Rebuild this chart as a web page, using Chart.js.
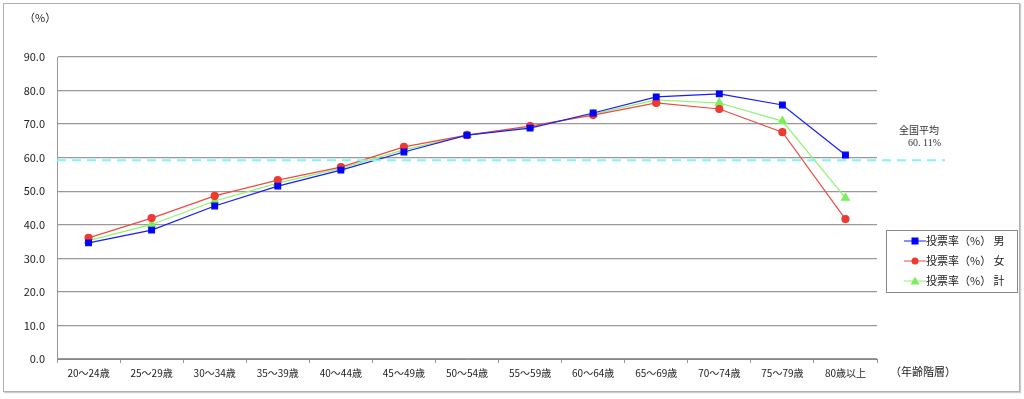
<!DOCTYPE html>
<html>
<head>
<meta charset="utf-8">
<script src="https://cdn.jsdelivr.net/npm/chart.js@4"></script>
<style>
  html, body { margin: 0; padding: 0; background: #fff; }
  #wrap { position: relative; width: 1024px; height: 399px; }
  #frame {
    position: absolute; left: 3px; top: 3px; width: 1015px; height: 387px;
    border: 1px solid #b0b0b0; box-shadow: 1px 1px 1px #ccc;
  }
  canvas { position: absolute; left: 0; top: 0; }
</style>
</head>
<body>
<div id="wrap">
  <div id="frame"></div>
  <canvas id="chart" width="1024" height="399"></canvas>
</div>
<script>
// age groups
const categories = ['20～24歳', '25～29歳', '30～34歳', '35～39歳', '40～44歳', '45～49歳', '50～54歳',
  '55～59歳', '60～64歳', '65～69歳', '70～74歳', '75～79歳', '80歳以上'];

// turnout (%)
const maleValues   = [34.6, 38.4, 45.6, 51.5, 56.3, 61.7, 66.7, 68.8, 73.3, 78.1, 79.0, 75.7, 60.8];
const femaleValues = [36.1, 42.0, 48.6, 53.3, 57.2, 63.2, 66.7, 69.4, 72.7, 76.3, 74.5, 67.6, 41.7];
const totalValues  = [35.3, 40.1, 47.1, 52.4, 56.8, 62.3, 66.7, 69.1, 73.0, 77.2, 76.3, 70.9, 48.0];

const seriesNames = ['投票率（%） 男', '投票率（%） 女', '投票率（%） 計'];
const avgLineValue = 59.2;
const avgLabel = ['全国平均', '60. 11%'];

const JP = '"Noto Sans CJK JP", "Noto Sans", sans-serif';

// dashed national average line + labels + custom legend
const extras = {
  id: 'extras',
  afterDatasetsDraw(chart) {
    const ctx = chart.ctx;
    const y = chart.scales.y.getPixelForValue(avgLineValue);
    const area = chart.chartArea;
    ctx.save();
    ctx.strokeStyle = '#7ff5f5';
    ctx.lineWidth = 2;
    ctx.setLineDash([9, 6]);
    ctx.beginPath();
    ctx.moveTo(area.left, y);
    ctx.lineTo(area.right + 68, y);
    ctx.stroke();
    ctx.setLineDash([]);

    ctx.fillStyle = '#333';
    ctx.font = '10px ' + JP;
    ctx.textBaseline = 'middle';
    ctx.fillText(avgLabel[0], area.right + 22, y - 30);
    ctx.font = '10px "Liberation Serif", "DejaVu Serif", serif';
    ctx.fillText(avgLabel[1], area.right + 31, y - 17);

    // "(%)" and axis title
    ctx.font = '11px ' + JP;
    ctx.fillStyle = '#222';
    ctx.fillText('（%）', 24, 18);
    ctx.fillText('（年齢階層）', area.right + 13, 372);

    // legend
    const lx = 886, ly = 230, lw = 131, lh = 62;
    ctx.strokeStyle = '#888';
    ctx.lineWidth = 1;
    ctx.strokeRect(lx + 0.5, ly + 0.5, lw, lh);
    chart.data.datasets.forEach((ds, i) => {
      const cy = ly + 11 + i * 20;
      ctx.strokeStyle = ds.borderColor;
      ctx.lineWidth = 1;
      ctx.beginPath();
      ctx.moveTo(lx + 18, cy);
      ctx.lineTo(lx + 40, cy);
      ctx.stroke();
      ctx.fillStyle = ds.pointBackgroundColor;
      if (ds.pointStyle === 'rect') {
        ctx.fillRect(lx + 29 - 3.5, cy - 3.5, 7, 7);
      } else if (ds.pointStyle === 'circle') {
        ctx.beginPath(); ctx.arc(lx + 29, cy, 3.5, 0, Math.PI * 2); ctx.fill();
      } else {
        ctx.beginPath();
        ctx.moveTo(lx + 29, cy - 4.5); ctx.lineTo(lx + 33.5, cy + 3.5); ctx.lineTo(lx + 24.5, cy + 3.5);
        ctx.closePath(); ctx.fill();
      }
      ctx.fillStyle = '#222';
      ctx.font = '11px ' + JP;
      ctx.fillText(ds.label, lx + 40, cy);
    });
    ctx.restore();
  }
};

new Chart(document.getElementById('chart'), {
  type: 'line',
  data: {
    labels: categories,
    datasets: [
      { label: seriesNames[0], data: maleValues, borderColor: '#1a1aff', pointBackgroundColor: '#0000ff',
        pointBorderColor: '#0000ff', pointStyle: 'rect', pointRadius: 4, borderWidth: 1.2 },
      { label: seriesNames[1], data: femaleValues, borderColor: '#f04a40', pointBackgroundColor: '#ee3a30',
        pointBorderColor: '#ee3a30', pointStyle: 'circle', pointRadius: 3.5, borderWidth: 1.2 },
      { label: seriesNames[2], data: totalValues, borderColor: '#8cf56e', pointBackgroundColor: '#7cee5a',
        pointBorderColor: '#7cee5a', pointStyle: 'triangle', pointRadius: 4.5, borderWidth: 1.2 }
    ]
  },
  options: {
    responsive: false,
    animation: false,
    layout: { padding: { top: 57, right: 147, bottom: 0, left: 0 } },
    plugins: { legend: { display: false }, tooltip: { enabled: false } },
    elements: { line: { tension: 0 } },
    scales: {
      x: {
        offset: true,
        grid: { drawOnChartArea: false, drawTicks: true, tickLength: 4, color: '#999', offset: true },
        border: { color: '#888' },
        ticks: { color: '#222', font: { family: JP, size: 10 }, padding: 4, maxRotation: 0, autoSkip: false },
        afterFit(scale) { scale.height = 40; }
      },
      y: {
        min: 0, max: 90,
        ticks: { stepSize: 10, color: '#222', font: { family: JP, size: 11 }, padding: 12,
          callback: v => v.toFixed(1) },
        grid: { color: '#999', lineWidth: 1.3, drawTicks: false },
        border: { color: '#999' },
        afterFit(scale) { scale.width = 57; }
      }
    }
  },
  plugins: [extras]
});
</script>
</body>
</html>
